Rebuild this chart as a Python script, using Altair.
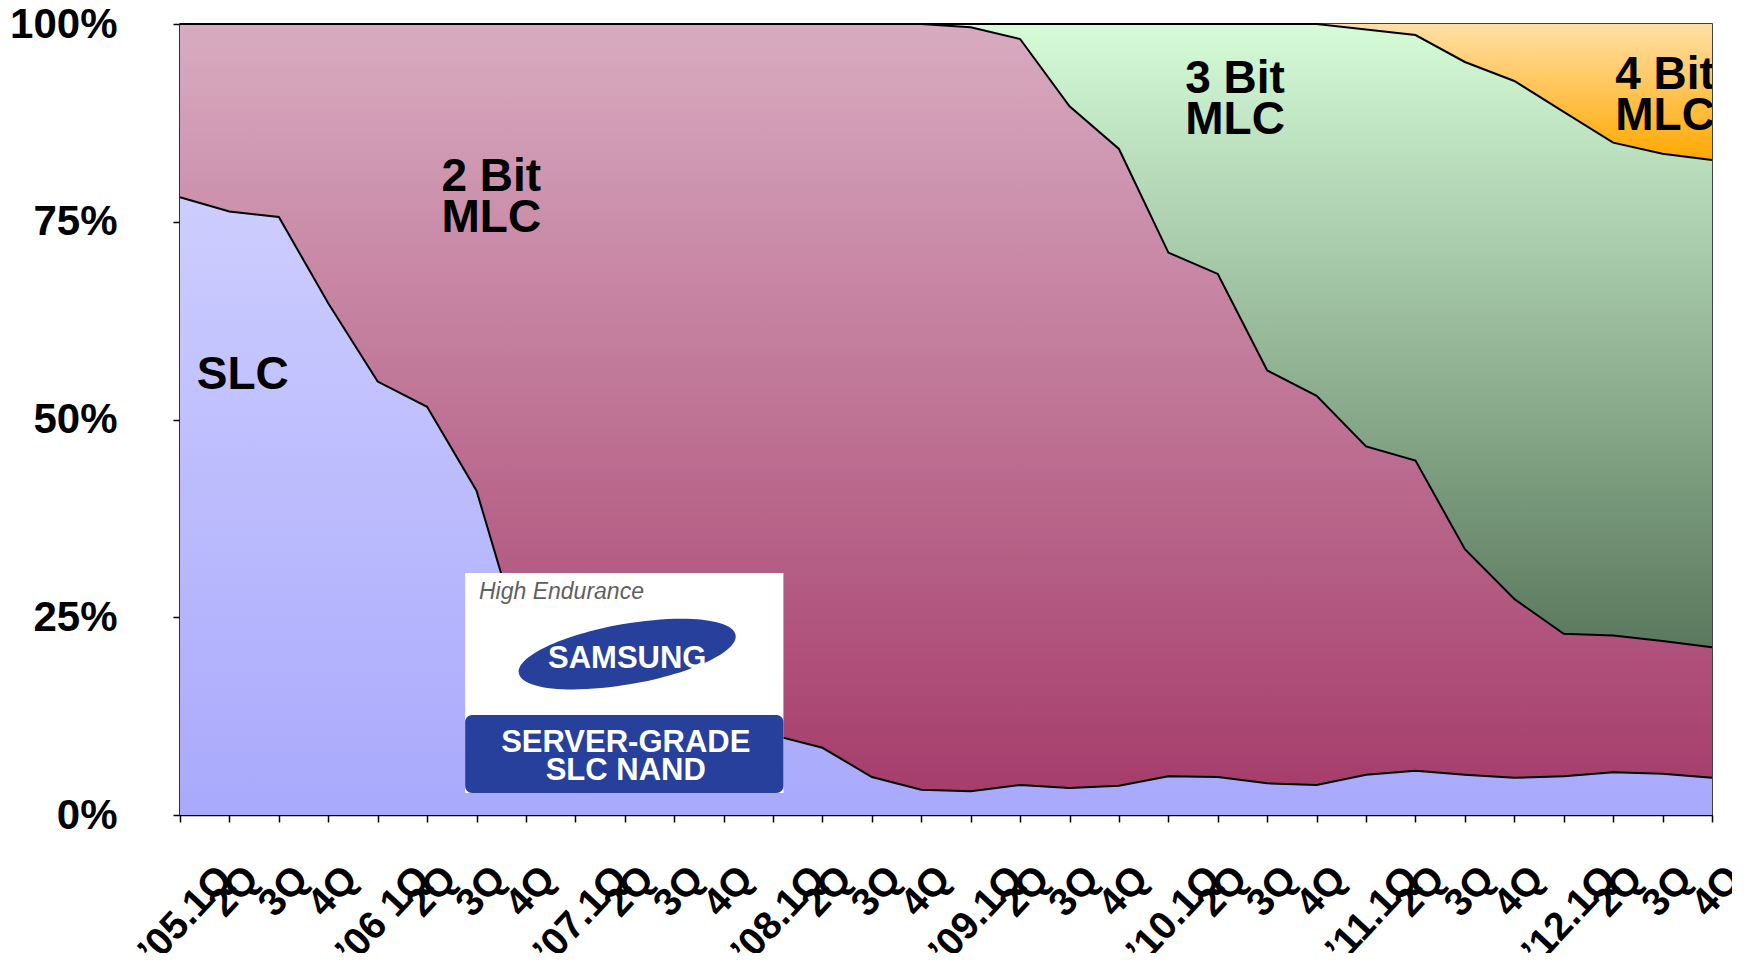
import json
import altair as alt
import pandas as pd

# ---------------- data ----------------
quarters = ["’05.1Q", "2Q", "3Q", "4Q", "’06 1Q", "2Q", "3Q", "4Q",
            "’07.1Q", "2Q", "3Q", "4Q", "’08.1Q", "2Q", "3Q", "4Q",
            "’09.1Q", "2Q", "3Q", "4Q", "’10.1Q", "2Q", "3Q", "4Q",
            "’11.1Q", "2Q", "3Q", "4Q", "’12.1Q", "2Q", "3Q", "4Q"]

slc = [78.1, 76.3, 75.6, 64.7, 54.8, 51.6, 41.0, 20.0, 16.0, 14.0, 12.5, 11.3,
       10.1, 8.5, 4.8, 3.2, 3.0, 3.8, 3.4, 3.7, 4.9, 4.8, 4.0, 3.8,
       5.1, 5.6, 5.1, 4.7, 4.9, 5.4, 5.2, 4.7]
mlc2 = [21.9, 23.7, 24.4, 35.3, 45.2, 48.4, 59.0, 80.0, 84.0, 86.0, 87.5, 88.7,
        89.9, 91.5, 95.2, 96.8, 96.6, 94.3, 86.2, 80.5, 66.2, 63.6, 52.2, 49.2,
        41.5, 39.2, 28.5, 22.6, 18.0, 17.3, 16.8, 16.5]
mlc3 = [0, 0, 0, 0, 0, 0, 0, 0, 0, 0, 0, 0,
        0, 0, 0, 0, 0.4, 1.9, 10.4, 15.8, 28.9, 31.6, 43.8, 47.0,
        52.7, 53.8, 61.6, 65.5, 66.0, 62.3, 61.6, 61.6]
mlc4 = [0, 0, 0, 0, 0, 0, 0, 0, 0, 0, 0, 0,
        0, 0, 0, 0, 0, 0, 0, 0, 0, 0, 0, 0,
        0.7, 1.4, 4.8, 7.2, 11.1, 15.0, 16.4, 17.2]

series_names = ["SLC", "2 Bit MLC", "3 Bit MLC", "4 Bit MLC"]
series_values = [slc, mlc2, mlc3, mlc4]
series_gradients = {
    "SLC": ["#cdcdff", "#a9a9fc"],
    "2 Bit MLC": ["#d8abc0", "#a63d6c"],
    "3 Bit MLC": ["#d5fbd7", "#5a785d"],
    "4 Bit MLC": ["#ffdfa6", "#ffa800"],
}

# region labels (x in quarter index, y in %)
label_text = ["SLC", "2 Bit\nMLC", "3 Bit\nMLC", "4 Bit\nMLC"]
label_x = [1.27, 6.3, 21.35, 30.05]
label_y = [53.9, 78.9, 91.3, 91.8]

# logo badge (x in quarter index, y in %)
logo_box = dict(x=5.77, x2=12.21, y=2.78, y2=30.6)
logo_bar = dict(x=5.77, x2=12.21, y=2.78, y2=12.64)
logo_oval = dict(x=9.05, y=20.35)
logo_texts = ["High Endurance", "SAMSUNG", "SERVER-GRADE\nSLC NAND"]
logo_text_x = [6.05, 9.05, 9.02]
logo_text_y = [27.3, 18.6, 8.0]

# ---------------- tables ----------------
rows = []
cum = [0.0] * len(quarters)
for name, vals in zip(series_names, series_values):
    for i, v in enumerate(vals):
        rows.append(dict(x=i, series=name, lo=cum[i], hi=cum[i] + v))
    cum = [c + v for c, v in zip(cum, vals)]
df = pd.DataFrame(rows)

FONT = "Liberation Sans"
xscale = alt.Scale(domain=[0, len(quarters) - 1], nice=False, zero=False)
yscale = alt.Scale(domain=[0, 100], nice=False)

xaxis = alt.Axis(
    values=list(range(len(quarters))),
    labelExpr=json.dumps(quarters, ensure_ascii=False) + "[datum.value]",
    labelAngle=313, labelAlign="right", labelBaseline="middle",
    labelFont=FONT, labelFontSize=39, labelFontWeight="bold", labelColor="black",
    labelPadding=50,
    labelOffset={"condition": {"test": "datum.value % 4 === 0", "value": 45}, "value": 22},
    labelOverlap=False, labelBound=False, labelFlush=False,
    tickSize=7, tickColor="black", tickWidth=1.5,
    domainColor="black", domainWidth=1.5, grid=False,
)
yaxis = alt.Axis(
    values=[0, 25, 50, 75, 100], labelExpr="datum.value + '%'",
    labelFont=FONT, labelFontSize=42, labelFontWeight="bold", labelColor="black",
    labelPadding=56, tickSize=7, tickColor="black", tickWidth=1.5,
    domainColor="black", domainWidth=1.5, grid=False,
)

X = alt.X("x:Q", scale=xscale, axis=xaxis, title=None)


def Y(field):
    return alt.Y(f"{field}:Q", scale=yscale, axis=yaxis, title=None)


base = alt.Chart(df)
layers = []
for name in series_names:
    top, bottom = series_gradients[name]
    grad = alt.LinearGradient(
        gradient="linear", x1=0, x2=0, y1=0, y2=1,
        stops=[alt.GradientStop(color=top, offset=0),
               alt.GradientStop(color=bottom, offset=1)],
    )
    layers.append(
        base.transform_filter(alt.datum.series == name)
        .mark_area(color=grad, opacity=1)
        .encode(x=X, y=Y("hi"), y2="lo:Q")
    )

lines = (
    base.transform_filter(alt.datum.series != "4 Bit MLC")
    .mark_line(color="black", strokeWidth=2)
    .encode(x=X, y=Y("hi"), detail="series:N")
)
layers.append(lines)

# logo badge
box = alt.Chart(pd.DataFrame([logo_box])).mark_rect(color="white").encode(
    x=X, x2="x2:Q", y=Y("y"), y2="y2:Q")
bar = alt.Chart(pd.DataFrame([logo_bar])).mark_rect(color="#27409b", cornerRadius=7).encode(
    x=X, x2="x2:Q", y=Y("y"), y2="y2:Q")
oval_path = "M-1,0 A1,0.275 0 1,1 1,0 A1,0.275 0 1,1 -1,0 Z"
oval = alt.Chart(pd.DataFrame([logo_oval])).mark_point(
    shape=oval_path, size=48400, filled=True, color="#27409b", opacity=1, angle=350
).encode(x=X, y=Y("y"))
t_df = pd.DataFrame({"x": logo_text_x, "y": logo_text_y, "t": logo_texts})
t_high = alt.Chart(t_df.iloc[[0]]).mark_text(
    font=FONT, fontSize=23, fontStyle="italic", color="#5f5f5f", align="left",
    baseline="alphabetic").encode(x=X, y=Y("y"), text="t:N")
t_sam = alt.Chart(t_df.iloc[[1]]).mark_text(
    font=FONT, fontSize=31, fontWeight="bold", color="white", align="center",
    baseline="alphabetic").encode(x=X, y=Y("y"), text="t:N")
t_srv = alt.Chart(t_df.iloc[[2]]).mark_text(
    font=FONT, fontSize=31, fontWeight="bold", color="white", align="center",
    baseline="alphabetic", lineBreak="\n", lineHeight=28).encode(x=X, y=Y("y"), text="t:N")
layers += [box, bar, oval, t_high, t_sam, t_srv]

# region labels
lab_df = pd.DataFrame({"x": label_x, "y": label_y, "t": label_text})
labels = alt.Chart(lab_df).mark_text(
    font=FONT, fontSize=46, fontWeight="bold", color="black", align="center",
    baseline="alphabetic", lineBreak="\n", lineHeight=41, clip=True,
).encode(x=X, y=Y("y"), text="t:N")
layers.append(labels)

chart = (
    alt.layer(*layers)
    .properties(
        width=1532, height=791,
        autosize=alt.AutoSizeParams(type="none"),
        padding={"left": 172, "top": 16, "right": 20, "bottom": 138},
    )
    .configure_view(stroke="black", strokeWidth=1.5)
)

chart.save("out.html", embed_options={"renderer": "svg", "actions": False})
